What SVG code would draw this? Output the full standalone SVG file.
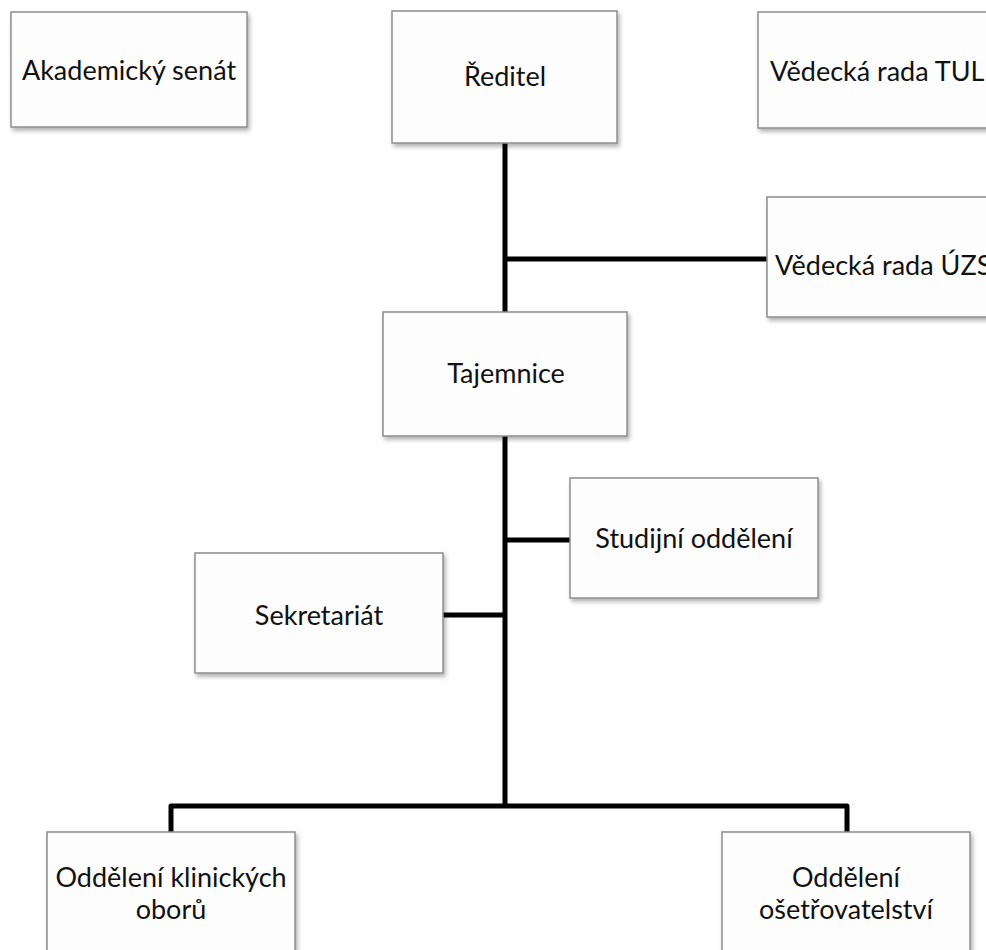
<svg xmlns="http://www.w3.org/2000/svg" width="986" height="950" viewBox="0 0 986 950">
<style>
.box{fill:#fdfdfd;stroke:#8c8c8c;stroke-width:1.5;filter:url(#sh)}
.t{font-family:Lato,"Liberation Sans",Arial,sans-serif;font-size:27px;fill:#111}
.c{text-anchor:middle}
.ln{fill:none;stroke:#000;stroke-width:5;stroke-linejoin:round}
</style>
<defs>
<filter id="sh" x="-10%" y="-10%" width="120%" height="125%">
<feDropShadow dx="2" dy="3" stdDeviation="2" flood-color="#000" flood-opacity="0.3"/>
</filter>
</defs>
<rect width="986" height="950" fill="#fff"/>
<g id="connectors">
<path class="ln" d="M505 143 V806"/>
<path class="ln" d="M505 259 H767"/>
<path class="ln" d="M505 540 H570"/>
<path class="ln" d="M443 615 H505"/>
<path class="ln" d="M171 832 V806 H847 V832"/>
</g>
<g id="akademicky-senat"><rect class="box" x="11" y="12" width="236" height="115"/><text class="t c" x="129" y="80">Akademický senát</text></g>
<g id="reditel"><rect class="box" x="392" y="11" width="225" height="132"/><text class="t c" x="505" y="86">Ředitel</text></g>
<g id="vedecka-rada-tul"><rect class="box" x="758" y="12" width="240" height="116"/><text class="t" x="770" y="81">Vědecká rada TUL</text></g>
<g id="vedecka-rada-uzs"><rect class="box" x="767" y="197" width="240" height="120"/><text class="t" x="775" y="275">Vědecká rada ÚZS</text></g>
<g id="tajemnice"><rect class="box" x="383" y="312" width="244" height="124"/><text class="t c" x="506" y="383">Tajemnice</text></g>
<g id="studijni-oddeleni"><rect class="box" x="570" y="478" width="248" height="120"/><text class="t c" x="694" y="548">Studijní oddělení</text></g>
<g id="sekretariat"><rect class="box" x="195" y="553" width="248" height="120"/><text class="t c" x="319" y="625">Sekretariát</text></g>
<g id="oddeleni-klinickych-oboru"><rect class="box" x="47" y="832" width="248" height="130"/><text class="t c" x="171" y="887">Oddělení klinických</text><text class="t c" x="171" y="919">oborů</text></g>
<g id="oddeleni-osetrovatelstvi"><rect class="box" x="722" y="832" width="248" height="130"/><text class="t c" x="846" y="887">Oddělení</text><text class="t c" x="846" y="919">ošetřovatelství</text></g>
</svg>
